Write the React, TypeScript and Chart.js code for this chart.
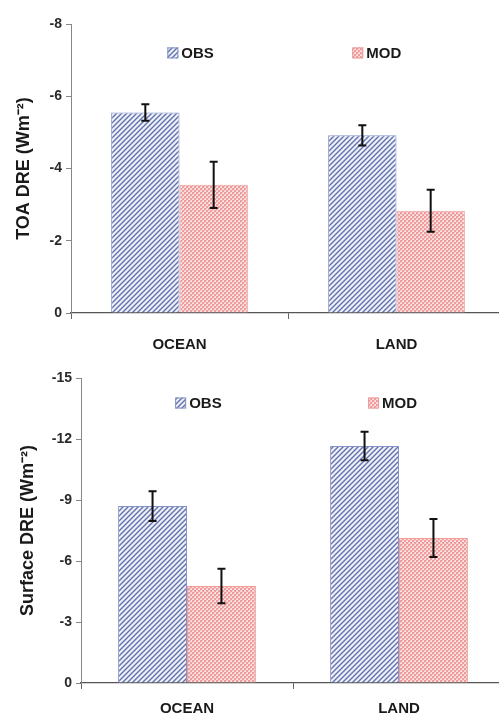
import React, { useEffect, useRef } from "react";
import { Chart, registerables } from "chart.js";

Chart.register(...registerables);

// Regions on the x axis
const categories = ["OCEAN", "LAND"];

// Top-of-atmosphere direct radiative effect (W m-2)
const toaObs = [-5.55, -4.92];
const toaObsErr = [0.23, 0.28];
const toaMod = [-3.55, -2.83];
const toaModErr = [0.64, 0.58];

// Surface direct radiative effect (W m-2)
const sfcObs = [-8.7, -11.66];
const sfcObsErr = [0.73, 0.7];
const sfcMod = [-4.77, -7.13];
const sfcModErr = [0.85, 0.93];

const seriesNames = ["OBS", "MOD"];

const FONT = "'Liberation Sans', Arial, Helvetica, sans-serif";

function makeStripePattern(): CanvasPattern | string {
  const c = document.createElement("canvas");
  c.width = 5;
  c.height = 5;
  const g = c.getContext("2d");
  if (!g) return "#8a96c4";
  g.fillStyle = "#eef0f8";
  g.fillRect(0, 0, 5, 5);
  g.strokeStyle = "#6272ae";
  g.lineWidth = 1.4;
  g.beginPath();
  g.moveTo(-1, 6);
  g.lineTo(6, -1);
  g.moveTo(-1, 1);
  g.lineTo(1, -1);
  g.moveTo(4, 6);
  g.lineTo(6, 4);
  g.stroke();
  const p = g.createPattern(c, "repeat");
  return p || "#8a96c4";
}

function makeCheckPattern(): CanvasPattern | string {
  const c = document.createElement("canvas");
  c.width = 4;
  c.height = 4;
  const g = c.getContext("2d");
  if (!g) return "#f2b0b0";
  g.fillStyle = "#fbe2e2";
  g.fillRect(0, 0, 4, 4);
  g.fillStyle = "#ef9c9c";
  g.fillRect(0, 0, 2, 2);
  g.fillRect(2, 2, 2, 2);
  g.fillStyle = "#f6bdbd";
  g.fillRect(2, 0, 1, 1);
  g.fillRect(0, 2, 1, 1);
  const p = g.createPattern(c, "repeat");
  return p || "#f2b0b0";
}

// Draws symmetric error bars over each bar from the dataset's `errors` array
const errorBarPlugin = {
  id: "errorBars",
  afterDatasetsDraw(chart: any) {
    const ctx = chart.ctx;
    const yScale = chart.scales.y;
    ctx.save();
    ctx.strokeStyle = "#111";
    ctx.lineWidth = 2;
    chart.data.datasets.forEach((ds: any, di: number) => {
      const meta = chart.getDatasetMeta(di);
      meta.data.forEach((bar: any, i: number) => {
        const v = ds.data[i];
        const e = ds.errors[i];
        const yA = yScale.getPixelForValue(v - e);
        const yB = yScale.getPixelForValue(v + e);
        const x = bar.x;
        const cap = 4;
        ctx.beginPath();
        ctx.moveTo(x, yA);
        ctx.lineTo(x, yB);
        ctx.moveTo(x - cap, yA);
        ctx.lineTo(x + cap, yA);
        ctx.moveTo(x - cap, yB);
        ctx.lineTo(x + cap, yB);
        ctx.stroke();
      });
    });
    ctx.restore();
  },
};

// Legend entries placed inside the plot area, at fractions of its width/height
const innerLegendPlugin = {
  id: "innerLegend",
  afterDraw(chart: any, _args: any, opts: any) {
    const { ctx, chartArea } = chart;
    const w = chartArea.right - chartArea.left;
    const h = chartArea.bottom - chartArea.top;
    ctx.save();
    chart.data.datasets.forEach((ds: any, di: number) => {
      const pos = opts.positions[di];
      const x = chartArea.left + pos[0] * w;
      const y = chartArea.top + pos[1] * h;
      const s = 11;
      ctx.fillStyle = ds.backgroundColor;
      ctx.fillRect(x, y - s / 2, s, s);
      ctx.strokeStyle = ds.borderColor;
      ctx.lineWidth = 1;
      ctx.strokeRect(x + 0.5, y - s / 2 + 0.5, s - 1, s - 1);
      ctx.fillStyle = "#1a1a1a";
      ctx.font = `bold 15px ${FONT}`;
      ctx.textBaseline = "middle";
      ctx.textAlign = "left";
      ctx.fillText(ds.label, x + s + 3, y + 1);
    });
    ctx.restore();
  },
};

type PanelProps = {
  width: number;
  height: number;
  obs: number[];
  obsErr: number[];
  mod: number[];
  modErr: number[];
  yMin: number;
  yStep: number;
  yTitle: string;
  padLeft: number;
  axisWidth: number;
  axisHeight: number;
  padTop: number;
  catPct: number;
  legendPos: number[][];
  xPad: number;
};

function Panel(p: PanelProps) {
  const ref = useRef<HTMLCanvasElement | null>(null);
  useEffect(() => {
    if (!ref.current) return;
    const stripe = makeStripePattern();
    const check = makeCheckPattern();
    const chart = new Chart(ref.current, {
      type: "bar",
      data: {
        labels: categories,
        datasets: [
          {
            label: seriesNames[0],
            data: p.obs,
            errors: p.obsErr,
            backgroundColor: stripe,
            borderColor: "#8593c6",
            borderWidth: 1,
          } as any,
          {
            label: seriesNames[1],
            data: p.mod,
            errors: p.modErr,
            backgroundColor: check,
            borderColor: "#ee9c9c",
            borderWidth: 1,
          } as any,
        ],
      },
      options: {
        animation: false,
        responsive: false,
        devicePixelRatio: 1,
        layout: {
          padding: { top: p.padTop, right: 1, left: p.padLeft, bottom: 0 },
        },
        datasets: {
          bar: { categoryPercentage: p.catPct, barPercentage: 1.0 },
        },
        plugins: {
          legend: { display: false },
          tooltip: { enabled: false },
          innerLegend: { positions: p.legendPos },
        } as any,
        scales: {
          x: {
            grid: {
              display: true,
              offset: true,
              drawOnChartArea: false,
              drawTicks: true,
              tickLength: 6,
              color: "#666",
            },
            border: { display: true, color: "#555", width: 1.2 },
            ticks: {
              padding: p.xPad,
              color: "#1a1a1a",
              font: { family: FONT, size: 15, weight: "bold" },
            },
            afterFit(scale: any) {
              scale.height = p.axisHeight;
            },
          },
          y: {
            reverse: true,
            min: p.yMin,
            max: 0,
            grid: {
              display: true,
              drawOnChartArea: false,
              drawTicks: true,
              tickLength: 5,
              color: "#888",
            },
            border: { display: true, color: "#888", width: 1 },
            ticks: {
              stepSize: p.yStep,
              padding: 4,
              color: "#2a2a2a",
              font: { family: FONT, size: 14, weight: "bold" },
            },
            title: {
              display: true,
              text: p.yTitle,
              color: "#1a1a1a",
              font: { family: FONT, size: 18, weight: "bold" },
              padding: 0,
            },
            afterFit(scale: any) {
              scale.width = p.axisWidth;
            },
          },
        },
      } as any,
      plugins: [errorBarPlugin, innerLegendPlugin],
    });
    return () => chart.destroy();
  }, []);
  return (
    <canvas
      ref={ref}
      width={p.width}
      height={p.height}
      style={{ display: "block", width: p.width, height: p.height }}
    />
  );
}

export default function App() {
  return (
    <div
      style={{
        position: "fixed",
        left: 0,
        top: 0,
        width: 499,
        height: 728,
        overflow: "hidden",
        background: "#fff",
      }}
    >
      <Panel
        width={506}
        height={360}
        obs={toaObs}
        obsErr={toaObsErr}
        mod={toaMod}
        modErr={toaModErr}
        yMin={-8}
        yStep={2}
        yTitle="TOA DRE (Wm⁻²)"
        padLeft={13}
        axisWidth={58}
        axisHeight={47}
        padTop={24}
        catPct={0.63}
        legendPos={[
          [0.222, 0.1],
          [0.648, 0.1],
        ]}
        xPad={17}
      />
      <Panel
        width={506}
        height={368}
        obs={sfcObs}
        obsErr={sfcObsErr}
        mod={sfcMod}
        modErr={sfcModErr}
        yMin={-15}
        yStep={3}
        yTitle="Surface DRE (Wm⁻²)"
        padLeft={17}
        axisWidth={64}
        axisHeight={45}
        padTop={18}
        catPct={0.65}
        legendPos={[
          [0.222, 0.082],
          [0.677, 0.082],
        ]}
        xPad={11}
      />
    </div>
  );
}
